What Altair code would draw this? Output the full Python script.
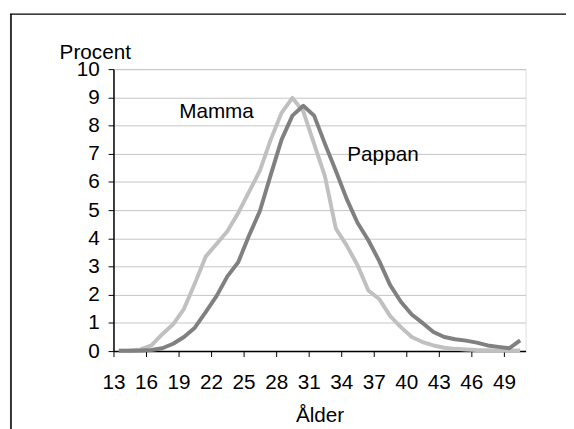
import altair as alt
import pandas as pd

ages = list(range(13, 51))
mamma = [0.01, 0.02, 0.06, 0.2, 0.6, 0.95, 1.5, 2.4, 3.35, 3.8, 4.25, 4.9, 5.65, 6.4,
         7.5, 8.45, 8.98, 8.5, 7.35, 6.2, 4.35, 3.75, 3.05, 2.15, 1.85, 1.25, 0.85, 0.5,
         0.32, 0.2, 0.12, 0.08, 0.06, 0.04, 0.03, 0.02, 0.02, 0.02]
pappan = [0.01, 0.01, 0.02, 0.04, 0.1, 0.26, 0.5, 0.83, 1.38, 1.95, 2.65, 3.15, 4.1, 4.97,
          6.25, 7.5, 8.35, 8.7, 8.35, 7.35, 6.4, 5.4, 4.55, 3.93, 3.2, 2.35, 1.75, 1.3,
          1.0, 0.68, 0.5, 0.42, 0.37, 0.3, 0.2, 0.15, 0.1, 0.38]
series_names = ["Mamma", "Pappan"]
series_colors = ["#c0c0c0", "#808080"]
x_labels = list(range(13, 50, 3))
y_ticks = list(range(0, 11))

rows = []
for name, vals in zip(series_names, [mamma, pappan]):
    for a, v in zip(ages, vals):
        rows.append({"Ålder": a, "Procent": v, "Serie": name})
df = pd.DataFrame(rows)

FONT = "Liberation Sans"
FS = 21

xscale = alt.Scale(domain=[12.5, 50.5], nice=False, zero=False)
yscale = alt.Scale(domain=[0, 10], nice=False)

lines = alt.Chart(df).mark_line(strokeWidth=4, strokeJoin="round").encode(
    x=alt.X("Ålder:Q", scale=xscale,
            axis=alt.Axis(values=x_labels, tickCount=60, format="d", tickOffset=-5.5,
                          tickSize=5.5, tickColor="black", domainColor="black",
                          domainWidth=1.5, grid=False,
                          labelFontSize=FS, labelFont=FONT, labelColor="black",
                          labelBaseline="alphabetic", labelPadding=32, labelFlush=False,
                          labelOverlap=False,
                          title="Ålder", titleFontSize=FS, titleFont=FONT,
                          titleFontWeight="normal", titleColor="black",
                          titleBaseline="alphabetic", titleY=71)),
    y=alt.Y("Procent:Q", scale=yscale,
            axis=alt.Axis(values=y_ticks, tickCount=60, format="d", tickSize=5.5,
                          tickColor="black", domainColor="black", domainWidth=1.5,
                          grid=True, gridColor="#c4c4c4", gridWidth=1,
                          labelFontSize=FS, labelFont=FONT, labelColor="black",
                          labelPadding=9, labelFlush=False, labelOverlap=False,
                          title="Procent", titleFontSize=FS, titleFont=FONT,
                          titleFontWeight="normal", titleColor="black",
                          titleAngle=0, titleAlign="center", titleBaseline="alphabetic",
                          titleX=-19, titleY=-10.5)),
    color=alt.Color("Serie:N", scale=alt.Scale(domain=series_names, range=series_colors),
                    legend=None),
    order=alt.Order("Ålder:Q"),
)

lab_df = pd.DataFrame({"name": series_names, "x": [22.0, 37.35], "y": [8.25, 6.75]})
labels = alt.Chart(lab_df).mark_text(fontSize=FS, font=FONT, color="black",
                                     align="center", baseline="alphabetic").encode(
    x=alt.X("x:Q", scale=xscale), y=alt.Y("y:Q", scale=yscale), text="name:N")

one = pd.DataFrame({"k": [0]})
frame_left = alt.Chart(one).mark_rule(color="#333333", strokeWidth=2).encode(
    x=alt.value(-104), y=alt.value(-56), y2=alt.value(380))
frame_top = alt.Chart(one).mark_rule(color="black", strokeWidth=1.2).encode(
    x=alt.value(-105), x2=alt.value(470), y=alt.value(-55.8))

chart = alt.layer(frame_left, frame_top, lines, labels).properties(
    width=418, height=286,
    autosize=alt.AutoSizeParams(type="none"),
    padding={"left": 107, "top": 59, "right": 41, "bottom": 76},
).configure_view(stroke="black", strokeWidth=1).configure(background="white")

chart.save("out.html", embed_options={"renderer": "svg", "actions": False})
